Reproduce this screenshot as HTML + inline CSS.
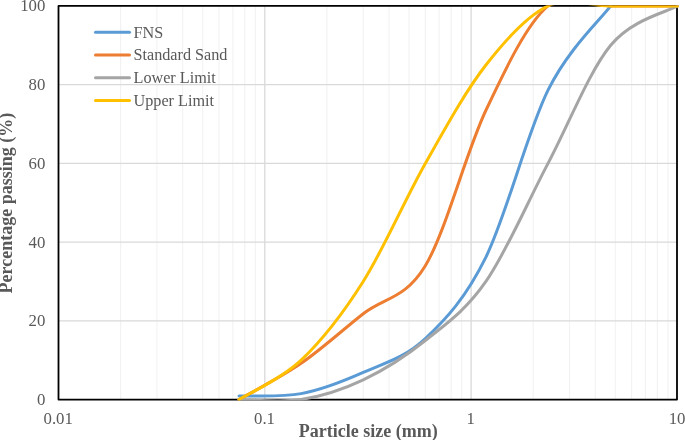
<!DOCTYPE html>
<html><head><meta charset="utf-8"><title>Particle size distribution</title><style>
html,body{margin:0;padding:0;background:#fff;width:685px;height:440px;overflow:hidden}
svg{display:block}
text{font-family:"Liberation Serif","Times New Roman",serif;fill:#595959}
.tk text{font-size:16.8px}
.lg text{font-size:16.2px}
.ti{font-size:18px;font-weight:bold}
.cv path{fill:none;stroke-width:3;stroke-linecap:round;stroke-linejoin:round}
.lgl line{stroke-width:3;stroke-linecap:round}
.mn{stroke:#F2F2F2;stroke-width:1.1}
.mj{stroke:#D9D9D9;stroke-width:1.3}
</style></head><body>
<svg width="685" height="440" viewBox="0 0 685 440">
<rect width="685" height="440" fill="#fff"/>
<g class="gr">
<line x1="120.60" y1="5.95" x2="120.60" y2="399.55" class="mn"/>
<line x1="156.93" y1="5.95" x2="156.93" y2="399.55" class="mn"/>
<line x1="182.70" y1="5.95" x2="182.70" y2="399.55" class="mn"/>
<line x1="202.70" y1="5.95" x2="202.70" y2="399.55" class="mn"/>
<line x1="219.03" y1="5.95" x2="219.03" y2="399.55" class="mn"/>
<line x1="232.84" y1="5.95" x2="232.84" y2="399.55" class="mn"/>
<line x1="244.81" y1="5.95" x2="244.81" y2="399.55" class="mn"/>
<line x1="255.36" y1="5.95" x2="255.36" y2="399.55" class="mn"/>
<line x1="326.90" y1="5.95" x2="326.90" y2="399.55" class="mn"/>
<line x1="363.23" y1="5.95" x2="363.23" y2="399.55" class="mn"/>
<line x1="389.00" y1="5.95" x2="389.00" y2="399.55" class="mn"/>
<line x1="409.00" y1="5.95" x2="409.00" y2="399.55" class="mn"/>
<line x1="425.33" y1="5.95" x2="425.33" y2="399.55" class="mn"/>
<line x1="439.14" y1="5.95" x2="439.14" y2="399.55" class="mn"/>
<line x1="451.11" y1="5.95" x2="451.11" y2="399.55" class="mn"/>
<line x1="461.66" y1="5.95" x2="461.66" y2="399.55" class="mn"/>
<line x1="533.20" y1="5.95" x2="533.20" y2="399.55" class="mn"/>
<line x1="569.53" y1="5.95" x2="569.53" y2="399.55" class="mn"/>
<line x1="595.30" y1="5.95" x2="595.30" y2="399.55" class="mn"/>
<line x1="615.30" y1="5.95" x2="615.30" y2="399.55" class="mn"/>
<line x1="631.63" y1="5.95" x2="631.63" y2="399.55" class="mn"/>
<line x1="645.44" y1="5.95" x2="645.44" y2="399.55" class="mn"/>
<line x1="657.41" y1="5.95" x2="657.41" y2="399.55" class="mn"/>
<line x1="667.96" y1="5.95" x2="667.96" y2="399.55" class="mn"/>
<line x1="264.80" y1="5.95" x2="264.80" y2="399.55" class="mj"/>
<line x1="471.10" y1="5.95" x2="471.10" y2="399.55" class="mj"/>
<line x1="58.50" y1="320.83" x2="677.40" y2="320.83" class="mj"/>
<line x1="58.50" y1="242.11" x2="677.40" y2="242.11" class="mj"/>
<line x1="58.50" y1="163.39" x2="677.40" y2="163.39" class="mj"/>
<line x1="58.50" y1="84.67" x2="677.40" y2="84.67" class="mj"/>
</g>
<rect x="58.50" y="5.95" width="618.50" height="393.60" fill="none" stroke="#000" stroke-width="1.8" stroke-linejoin="round"/>
<defs><clipPath id="pc"><rect x="57.50" y="5.40" width="621.50" height="395.15"/></clipPath></defs>
<g class="cv" clip-path="url(#pc)">
<path d="M239.03,396.01 C249.38,395.61 280.43,397.58 301.13,393.65 C321.83,389.71 342.53,381.58 363.23,372.39 C383.93,363.21 404.88,357.76 425.33,338.54 C445.78,319.32 465.48,298.46 485.93,257.07 C506.38,215.67 527.24,132.03 548.03,90.18 C568.83,48.33 600.26,19.99 610.70,5.95" stroke="#5B9BD5"/>
<path d="M239.03,399.55 C249.38,393.51 280.43,377.64 301.13,363.34 C321.83,349.04 342.53,330.01 363.23,313.75 C383.93,297.48 405.06,299.34 425.33,265.73 C445.78,231.81 465.48,153.55 485.93,110.25 C506.38,66.96 527.24,23.33 548.03,5.95 C568.83,-11.43 589.14,5.95 610.70,5.95 C632.26,5.95 666.28,5.95 677.40,5.95" stroke="#ED7D31"/>
<path d="M239.03,399.55 C249.38,399.55 280.43,402.83 301.13,399.55 C321.83,396.27 342.53,389.71 363.23,379.87 C383.93,370.03 404.88,356.91 425.33,340.51 C445.78,324.11 465.48,310.99 485.93,281.47 C506.38,251.95 527.24,202.75 548.03,163.39 C568.83,124.03 589.14,71.55 610.70,45.31 C632.26,19.07 666.28,12.51 677.40,5.95" stroke="#A5A5A5"/>
<path d="M239.03,399.55 C249.38,392.99 280.43,379.87 301.13,360.19 C321.83,340.51 342.53,314.27 363.23,281.47 C383.93,248.67 404.88,199.47 425.33,163.39 C445.78,127.31 465.48,91.23 485.93,64.99 C506.38,38.75 527.24,15.79 548.03,5.95 C568.83,-3.89 589.14,5.95 610.70,5.95 C632.26,5.95 666.28,5.95 677.40,5.95" stroke="#FFC000"/>
</g>
<g class="tk">
<text x="45.3" y="404.95" text-anchor="end">0</text>
<text x="45.3" y="326.23" text-anchor="end">20</text>
<text x="45.3" y="247.51" text-anchor="end">40</text>
<text x="45.3" y="168.79" text-anchor="end">60</text>
<text x="45.3" y="90.07" text-anchor="end">80</text>
<text x="45.3" y="11.35" text-anchor="end">100</text>
<text x="58.20" y="423.9" text-anchor="middle">0.01</text>
<text x="264.50" y="423.9" text-anchor="middle">0.1</text>
<text x="470.80" y="423.9" text-anchor="middle">1</text>
<text x="677.10" y="423.9" text-anchor="middle">10</text>
</g>
<g class="lgl">
<line x1="95.5" y1="32.30" x2="129.5" y2="32.30" stroke="#5B9BD5"/>
<line x1="95.5" y1="55.00" x2="129.5" y2="55.00" stroke="#ED7D31"/>
<line x1="95.5" y1="77.80" x2="129.5" y2="77.80" stroke="#A5A5A5"/>
<line x1="95.5" y1="100.60" x2="129.5" y2="100.60" stroke="#FFC000"/>
</g>
<g class="lg">
<text x="133.5" y="38.10">FNS</text>
<text x="133.5" y="60.20">Standard Sand</text>
<text x="133.5" y="83.00">Lower Limit</text>
<text x="133.5" y="105.80">Upper Limit</text>
</g>
<text x="368.25" y="436.5" text-anchor="middle" class="ti">Particle size (mm)</text>
<text transform="translate(12.2,203.05) rotate(-90)" text-anchor="middle" class="ti">Percentage passing (%)</text>
</svg>
</body></html>
